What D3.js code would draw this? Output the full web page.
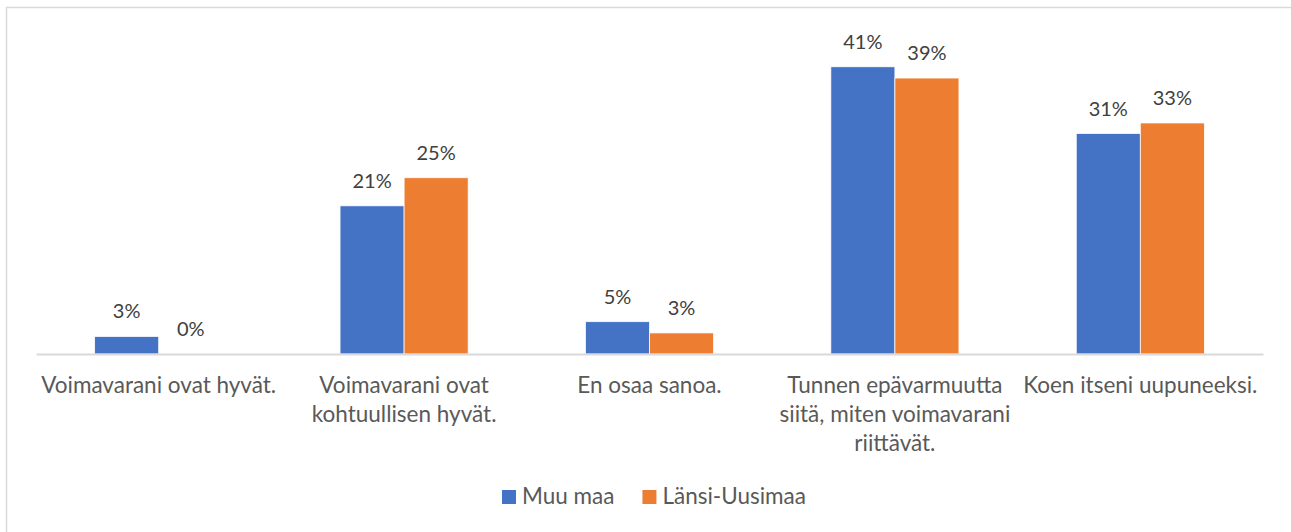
<!DOCTYPE html>
<html lang="fi">
  <head>
    <meta charset="UTF-8" />
    <title>Voimavarat</title>
    <style>
      body {
        margin: 0;
        background: #fff;
      }
      svg text {
        font-family: Lato, "Open Sans", sans-serif;
      }
      .cat-label {
        fill: #595959;
        font-size: 22.5px;
      }
      .val-label {
        fill: #404040;
        font-size: 20px;
      }
      .legend text {
        fill: #595959;
        font-size: 22.5px;
      }
    </style>
    <script src="https://d3js.org/d3.v7.min.js"></script>
  </head>
  <body>
    <svg id="chart"></svg>

    <script>
      // categories, "|" marks a line break as in the original
      const categories = [
        "Voimavarani ovat hyvät.",
        "Voimavarani ovat|kohtuullisen hyvät.",
        "En osaa sanoa.",
        "Tunnen epävarmuutta|siitä, miten voimavarani|riittävät.",
        "Koen itseni uupuneeksi.",
      ];
      const seriesNames = ["Muu maa", "Länsi-Uusimaa"];
      const muuMaa = [2.5, 21.1, 4.6, 40.9, 31.4];
      const lansiUusimaa = [0, 25.1, 3.0, 39.3, 32.9];
      const colors = ["#4472C4", "#ED7D31"];

      const W = 1291;
      const H = 532;
      const plot = { left: 36, right: 1263, top: 38, bottom: 354 };

      const svg = d3.select("#chart").attr("width", W).attr("height", H);

      // outer chart border (only top and left visible in the crop)
      svg
        .append("rect")
        .attr("x", 6.5)
        .attr("y", 7.5)
        .attr("width", W + 20)
        .attr("height", H + 20)
        .attr("fill", "#fff")
        .attr("stroke", "#d9d9d9")
        .attr("stroke-width", 1.5);

      const data = categories.map((c, i) => ({
        cat: c,
        values: [muuMaa[i], lansiUusimaa[i]],
      }));

      const x0 = d3
        .scaleBand()
        .domain(categories)
        .range([plot.left, plot.right])
        .padding(0);

      const barW = x0.bandwidth() * 0.261;
      const x1 = d3
        .scaleBand()
        .domain(seriesNames)
        .range([
          x0.bandwidth() / 2 - barW,
          x0.bandwidth() / 2 + barW,
        ]);

      const y = d3
        .scaleLinear()
        .domain([0, 45])
        .range([plot.bottom, plot.top]);

      const groups = svg
        .selectAll(".grp")
        .data(data)
        .enter()
        .append("g")
        .attr("class", "grp")
        .attr("transform", (d) => `translate(${x0(d.cat)},0)`);

      groups
        .selectAll("rect")
        .data((d) => d.values.map((v, j) => ({ v, s: seriesNames[j], j })))
        .enter()
        .append("rect")
        .attr("x", (d) => x1(d.s))
        .attr("y", (d) => y(d.v))
        .attr("width", x1.bandwidth())
        .attr("height", (d) => plot.bottom - y(d.v))
        .attr("fill", (d) => colors[d.j])
        .attr("stroke", (d) => (d.v > 0 ? "#fff" : "none"))
        .attr("stroke-width", 0.75);

      groups
        .selectAll(".val-label")
        .data((d) => d.values.map((v, j) => ({ v, s: seriesNames[j] })))
        .enter()
        .append("text")
        .attr("class", "val-label")
        .attr("x", (d) => x1(d.s) + x1.bandwidth() / 2)
        .attr("y", (d) => y(d.v) - 18)
        .attr("text-anchor", "middle")
        .text((d) => Math.round(d.v) + "%");

      // category axis
      const axis = svg
        .append("g")
        .attr("transform", `translate(0,${plot.bottom})`)
        .call(d3.axisBottom(x0).tickSize(0).tickFormat(""));
      axis.select(".domain").attr("stroke", "#d9d9d9").attr("stroke-width", 2);

      const catText = svg
        .selectAll(".cat-label")
        .data(categories)
        .enter()
        .append("text")
        .attr("class", "cat-label")
        .attr("text-anchor", "middle")
        .attr("x", (d) => x0(d) + x0.bandwidth() / 2)
        .attr("y", 393);
      catText
        .selectAll("tspan")
        .data((d) => d.split("|").map((t) => ({ t, x: x0(d) + x0.bandwidth() / 2 })))
        .enter()
        .append("tspan")
        .attr("x", (d) => d.x)
        .attr("dy", (d, i) => (i === 0 ? 0 : 29))
        .text((d) => d.t);

      // legend
      const legend = svg.append("g").attr("class", "legend");
      let lx = 0;
      seriesNames.forEach((name, i) => {
        const item = legend.append("g").attr("transform", `translate(${lx},0)`);
        item
          .append("rect")
          .attr("x", 0)
          .attr("y", -14)
          .attr("width", 14)
          .attr("height", 14)
          .attr("fill", colors[i]);
        const t = item.append("text").attr("x", 20).attr("y", 0).text(name);
        lx += 20 + t.node().getComputedTextLength() + 28;
      });
      const legW = lx - 28;
      legend.attr("transform", `translate(${654 - legW / 2},504)`);
    </script>
  </body>
</html>
